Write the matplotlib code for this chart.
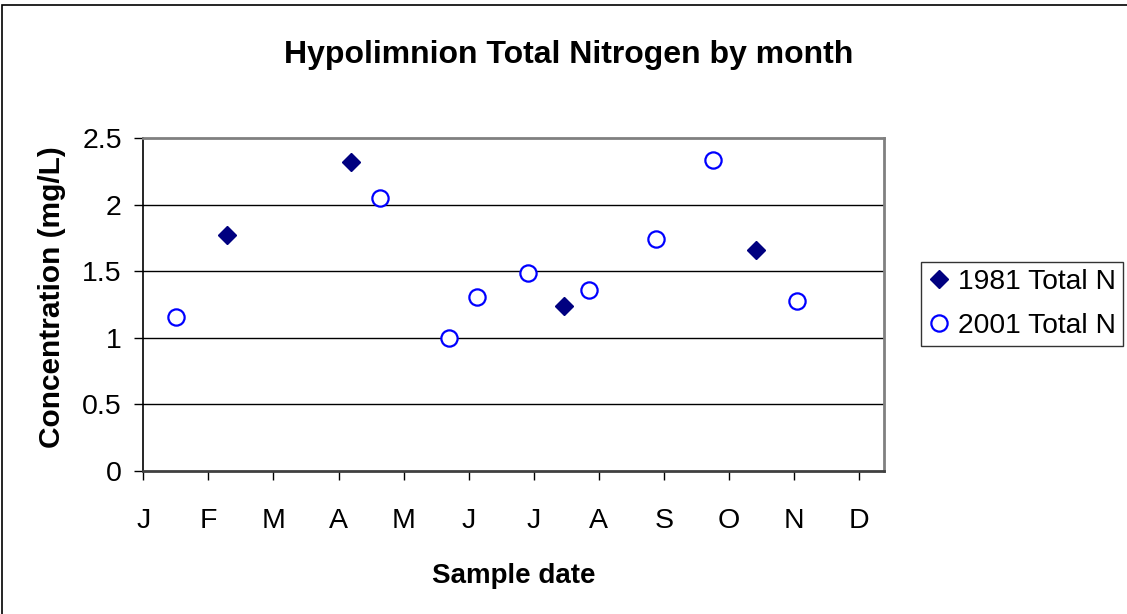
import matplotlib
matplotlib.use("Agg")
import matplotlib.pyplot as plt
from matplotlib.patches import Rectangle

plt.rcParams['font.family'] = ['Liberation Sans', 'DejaVu Sans']

# Data (x in months from Jan 1, y in mg/L)
months = ['J', 'F', 'M', 'A', 'M', 'J', 'J', 'A', 'S', 'O', 'N', 'D']
x1981 = [1.28, 3.19, 6.47, 9.41]
y1981 = [1.77, 2.32, 1.24, 1.66]
x2001 = [0.50, 3.63, 4.69, 5.12, 5.91, 6.85, 7.88, 8.75, 10.04]
y2001 = [1.16, 2.05, 1.00, 1.31, 1.49, 1.36, 1.74, 2.34, 1.28]
yticks = [0, 0.5, 1, 1.5, 2, 2.5]
ytick_labels = ['0', '0.5', '1', '1.5', '2', '2.5']

W, H = 1127, 614
fig = plt.figure(figsize=(W / 100, H / 100), dpi=100)
ax = fig.add_axes([143.3 / W, 1 - 471 / H, (884 - 143.3) / W, (471 - 138.3) / H])

ax.set_xlim(0, 11.38)
ax.set_ylim(0, 2.5)

for y in yticks[1:-1]:
    ax.axhline(y, color='black', lw=1.0, zorder=1)

ax.plot(x1981, y1981, linestyle='none', marker='D', ms=9.3, color='#000080',
        label='1981 Total N', zorder=3)
ax.plot(x2001, y2001, linestyle='none', marker='o', ms=11.7, mfc='white',
        mec='#0000FF', mew=1.6, label='2001 Total N', zorder=3)

ax.set_xticks(range(len(months)))
ax.set_xticklabels(months)
ax.set_yticks(yticks)
ax.set_yticklabels(ytick_labels)
ax.tick_params(axis='x', direction='out', length=6.5, width=1, pad=20,
               labelsize=20.5, color='black')
ax.tick_params(axis='y', direction='out', length=6.5, width=1, pad=9,
               labelsize=20.5, color='black')

for side in ['top', 'right']:
    ax.spines[side].set_color('#808080')
    ax.spines[side].set_linewidth(2)
ax.spines['left'].set_color('black')
ax.spines['left'].set_linewidth(1.2)
ax.spines['bottom'].set_color('#404040')
ax.spines['bottom'].set_linewidth(2)

ax.set_ylabel('Concentration (mg/L)', fontsize=21.5, fontweight='bold')
ax.yaxis.set_label_coords(-0.104, 0.523)
ax.set_xlabel('Sample date', fontsize=20, fontweight='bold', labelpad=21)

fig.text(569 / W, 1 - 63 / H, 'Hypolimnion Total Nitrogen by month',
         ha='center', va='baseline', fontsize=23, fontweight='bold')

leg = fig.legend(loc='upper left', bbox_to_anchor=(921 / W, 1 - 261.7 / H),
                 fontsize=20.3, frameon=True, fancybox=False, edgecolor='black',
                 handlelength=0.8, handletextpad=0.25, borderpad=0.25,
                 labelspacing=0.65, borderaxespad=0)
leg.get_frame().set_linewidth(1)

# outer chart border
fig.patches.append(Rectangle((2 / W, -0.05), 1.1, 1 - 5 / H + 0.05,
                             transform=fig.transFigure, fill=False,
                             edgecolor='black', lw=1.2))

fig.savefig('out.png', dpi=100)
